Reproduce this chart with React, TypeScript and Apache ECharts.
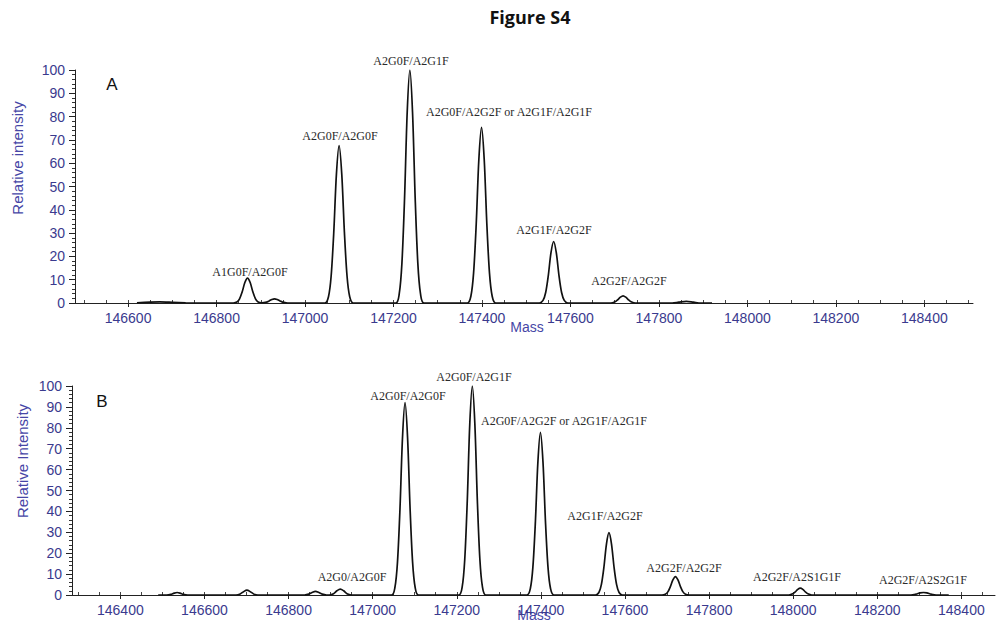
import React, { useEffect, useRef } from "react";
import * as echarts from "echarts";

// ---- Data (mass, relative intensity) ----
const spectrumA: [number, number][] = [
  [146620, 0.1], [146650, 0.35], [146672, 0.45], [146700, 0.3], [146730, 0.1], [146760, 0],
  [146838, 0], [146846, 0.4], [146852, 1.8], [146858, 4.8], [146864, 8.8], [146870, 10.7], [146876, 8.8], [146882, 4.8], [146888, 1.8], [146894, 0.4], [146902, 0.1],
  [146913, 0.4], [146919, 0.9], [146925, 1.5], [146931, 1.8], [146937, 1.5], [146943, 0.9], [146949, 0.4], [146957, 0.1], [146965, 0],
  [147045, 0], [147053, 2.7], [147059, 11.5], [147065, 30.4], [147071, 55.4], [147077, 67.6], [147083, 55.4], [147089, 30.4], [147095, 11.5], [147101, 2.7], [147109, 0],
  [147205, 0], [147213, 4], [147219, 17], [147225, 45], [147231, 82], [147237, 100], [147243, 82], [147249, 45], [147255, 17], [147261, 4], [147269, 0],
  [147367, 0], [147375, 3], [147381, 12.8], [147387, 33.9], [147393, 61.8], [147399, 75.4], [147405, 61.8], [147411, 33.9], [147417, 12.8], [147423, 3], [147431, 0],
  [147530, 0], [147538, 1.1], [147544, 4.5], [147550, 11.9], [147556, 21.6], [147562, 26.4], [147568, 21.6], [147574, 11.9], [147580, 4.5], [147586, 1.1], [147594, 0],
  [147687, 0], [147695, 0.1], [147701, 0.5], [147707, 1.4], [147713, 2.5], [147719, 3.1], [147725, 2.5], [147731, 1.4], [147737, 0.5], [147743, 0.1], [147751, 0],
  [147830, 0], [147845, 0.35], [147862, 0.7], [147878, 0.35], [147895, 0], [147920, 0],
];

const spectrumB: [number, number][] = [
  [146490, 0],
  [146510, 0], [146520, 0.3], [146528, 0.9], [146535, 1.2], [146542, 0.9], [146550, 0.3], [146560, 0],
  [146675, 0], [146685, 0.5], [146693, 1.6], [146701, 2.3], [146709, 1.6], [146717, 0.5], [146727, 0],
  [146838, 0], [146848, 0.4], [146856, 1.2], [146864, 1.7], [146872, 1.2], [146880, 0.4], [146890, 0],
  [146897, 0], [146907, 0.6], [146915, 2.0], [146923, 2.8], [146931, 2.0], [146939, 0.6], [146949, 0],
  [147045, 0], [147053, 3.7], [147059, 15.6], [147065, 41.4], [147071, 75.4], [147077, 92], [147083, 75.4], [147089, 41.4], [147095, 15.6], [147101, 3.7], [147109, 0],
  [147205, 0], [147213, 4], [147219, 17], [147225, 45], [147231, 82], [147237, 100], [147243, 82], [147249, 45], [147255, 17], [147261, 4], [147269, 0],
  [147367, 0], [147375, 3.1], [147381, 13.2], [147387, 35], [147393, 63.8], [147399, 77.8], [147405, 63.8], [147411, 35], [147417, 13.2], [147423, 3.1], [147431, 0],
  [147530, 0], [147538, 1.2], [147544, 5.1], [147550, 13.4], [147556, 24.4], [147562, 29.8], [147568, 24.4], [147574, 13.4], [147580, 5.1], [147586, 1.2], [147594, 0],
  [147688, 0], [147696, 0.4], [147702, 1.5], [147708, 4], [147714, 7.2], [147720, 8.8], [147726, 7.2], [147732, 4], [147738, 1.5], [147744, 0.4], [147752, 0],
  [147990, 0], [147999, 0.6], [148005, 1.5], [148011, 2.7], [148017, 3.3], [148023, 2.7], [148029, 1.5], [148035, 0.6], [148044, 0],
  [148280, 0], [148292, 0.4], [148302, 1.0], [148310, 1.2], [148318, 1.0], [148328, 0.4], [148340, 0], [148370, 0],
];

const massLabelsA = [146600, 146800, 147000, 147200, 147400, 147600, 147800, 148000, 148200, 148400];
const massLabelsB = [146400, 146600, 146800, 147000, 147200, 147400, 147600, 147800, 148000, 148200, 148400];

const glycoformsA = [
  "A1G0F/A2G0F", "A2G0F/A2G0F", "A2G0F/A2G1F", "A2G0F/A2G2F or A2G1F/A2G1F", "A2G1F/A2G2F", "A2G2F/A2G2F",
];
const glycoformsB = [
  "A2G0/A2G0F", "A2G0F/A2G0F", "A2G0F/A2G1F", "A2G0F/A2G2F or A2G1F/A2G1F", "A2G1F/A2G2F", "A2G2F/A2G2F", "A2G2F/A2S1G1F", "A2G2F/A2S2G1F",
];

const minorTicks = (lo: number, hi: number) => {
  const out: number[] = [];
  for (let v = lo; v <= hi; v += 50) out.push(v);
  return out;
};

const NAVY = "#3a3a8e";
const AXIS = "#222";

export default function App() {
  const ref = useRef<HTMLDivElement>(null);
  useEffect(() => {
    if (!ref.current) return;
    const chart = echarts.init(ref.current, undefined, { renderer: "svg" });

    const xMain = (grid: number, min: number, max: number, labels: number[]) => ({
      type: "value",
      gridIndex: grid,
      min,
      max,
      position: "bottom",
      axisLine: { show: true, onZero: false, lineStyle: { color: AXIS, width: 1 } },
      axisTick: { show: true, length: 4, inside: false, customValues: labels, lineStyle: { color: AXIS } },
      axisLabel: {
        show: true,
        customValues: labels,
        color: NAVY,
        fontSize: 14,
        fontFamily: "Liberation Sans, Arial, sans-serif",
        margin: 8,
        formatter: (v: number) => String(v),
      },
      splitLine: { show: false },
    });
    const xMinor = (grid: number, min: number, max: number, ticks: number[]) => ({
      type: "value",
      gridIndex: grid,
      min,
      max,
      position: "bottom",
      axisLine: { show: false, onZero: false },
      axisTick: { show: true, length: 3, inside: true, customValues: ticks, lineStyle: { color: "#444" } },
      axisLabel: { show: false },
      splitLine: { show: false },
    });
    const yAxis = (grid: number) => ({
      type: "value",
      gridIndex: grid,
      min: 0,
      max: 100,
      interval: 10,
      axisLine: { show: true, lineStyle: { color: AXIS, width: 1 } },
      axisTick: { show: true, length: 6, lineStyle: { color: AXIS } },
      minorTick: { show: true, splitNumber: 5, length: 3, lineStyle: { color: "#333" } },
      axisLabel: {
        color: NAVY,
        fontSize: 14,
        fontFamily: "Liberation Sans, Arial, sans-serif",
        margin: 10,
        padding: [8, 0, 0, 0],
      },
      splitLine: { show: false },
      minorSplitLine: { show: false },
    });

    const ann = (text: string, x: number, y: number, align = "center") => ({
      type: "text",
      x,
      y,
      silent: true,
      style: {
        text,
        font: '12px "Liberation Serif", "Times New Roman", serif',
        fill: "#2a2a2a",
        align,
        textAlign: align,
        verticalAlign: "middle",
        textVerticalAlign: "middle",
      },
    });
    const txt = (text: string, x: number, y: number, font: string, fill: string, rotation = 0) => ({
      type: "text",
      x,
      y,
      rotation,
      silent: true,
      style: {
        text,
        font,
        fill,
        align: "center",
        textAlign: "center",
        verticalAlign: "middle",
        textVerticalAlign: "middle",
      },
    });

    const axisNameFont = '15px "Liberation Sans", Arial, sans-serif';
    const axisNameColor = "#4646a6";

    chart.setOption({
      animation: false,
      backgroundColor: "#ffffff",
      grid: [
        { left: 75, top: 70, width: 898, height: 233 },
        { left: 72, top: 386, width: 923, height: 209 },
      ],
      xAxis: [
        xMain(0, 146480, 148510, massLabelsA),
        xMinor(0, 146480, 148510, minorTicks(146500, 148500)),
        xMain(1, 146285, 148480, massLabelsB),
        xMinor(1, 146285, 148480, minorTicks(146300, 148450)),
      ],
      yAxis: [yAxis(0), yAxis(1)],
      series: [
        {
          type: "line",
          xAxisIndex: 0,
          yAxisIndex: 0,
          data: spectrumA,
          showSymbol: false,
          symbol: "none",
          smooth: 0.3,
          lineStyle: { color: "#111", width: 1.7 },
        },
        {
          type: "line",
          xAxisIndex: 2,
          yAxisIndex: 1,
          data: spectrumB,
          showSymbol: false,
          symbol: "none",
          smooth: 0.3,
          lineStyle: { color: "#111", width: 1.7 },
        },
      ],
      graphic: [
        txt("Figure S4", 530, 17, 'bold 18px "Open Sans", "Liberation Sans", sans-serif', "#111"),
        txt("A", 112, 84, '17px "Liberation Sans", Arial, sans-serif', "#111"),
        txt("B", 102, 401, '17px "Liberation Sans", Arial, sans-serif', "#111"),
        txt("Relative intensity", 17, 158, axisNameFont, axisNameColor, Math.PI / 2),
        txt("Relative Intensity", 22, 461, axisNameFont, axisNameColor, Math.PI / 2),
        txt("Mass", 527, 327, '14px "Liberation Sans", Arial, sans-serif', axisNameColor),
        txt("Mass", 534, 615, '14px "Liberation Sans", Arial, sans-serif', axisNameColor),
        ann(glycoformsA[0], 250, 272),
        ann(glycoformsA[1], 340, 136),
        ann(glycoformsA[2], 411, 61),
        ann(glycoformsA[3], 426, 112, "left"),
        ann(glycoformsA[4], 554, 230),
        ann(glycoformsA[5], 629, 281),
        ann(glycoformsB[0], 352, 577),
        ann(glycoformsB[1], 408, 396),
        ann(glycoformsB[2], 474, 377),
        ann(glycoformsB[3], 481, 421, "left"),
        ann(glycoformsB[4], 605, 516),
        ann(glycoformsB[5], 684, 568),
        ann(glycoformsB[6], 797, 577),
        ann(glycoformsB[7], 923, 580),
      ],
    });
    return () => chart.dispose();
  }, []);
  return (
    <div
      ref={ref}
      style={{ position: "absolute", left: 0, top: 0, width: 1004, height: 623, background: "#fff" }}
    />
  );
}
